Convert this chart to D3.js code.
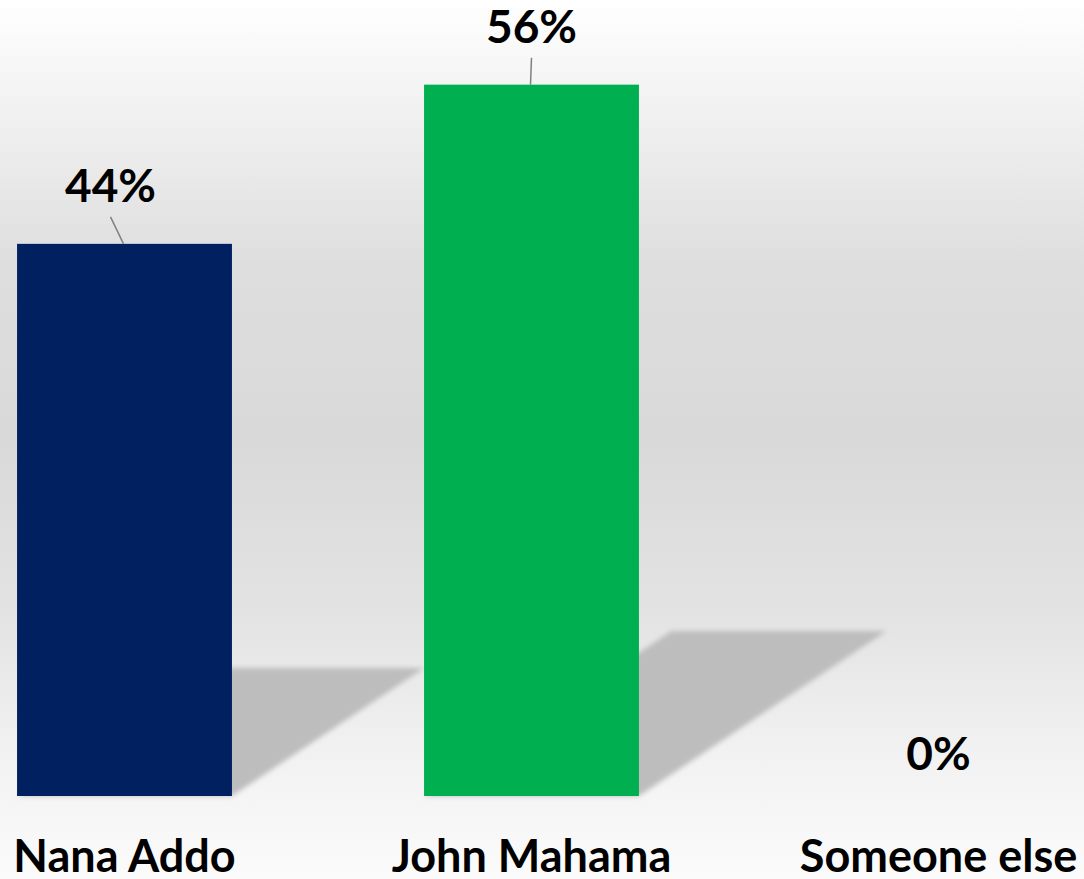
<!DOCTYPE html>
<html>
<head>
<meta charset="utf-8">
<script src="https://cdn.jsdelivr.net/npm/d3@7"></script>
<style>
  html, body { margin: 0; padding: 0; background: #fff; }
  svg { display: block; }
  .value { font-family: Lato, "Open Sans", sans-serif; font-weight: 700; font-size: 46px; fill: #000; }
  .cat { font-family: Lato, "Open Sans", sans-serif; font-weight: 700; font-size: 45px; fill: #000; }
</style>
</head>
<body>
<svg width="1084" height="879"></svg>
<script>
const candidates = ['Nana Addo', 'John Mahama', 'Someone else'];
const shares = [43.7, 56.3, 0];
const shareLabels = ['44%', '56%', '0%'];
const barColors = ['#002060', '#00B050', '#7f7f7f'];

const W = 1084, H = 879;
const baseline = 796;

const svg = d3.select('svg');
const defs = svg.append('defs');

// background: white -> grey -> white
const bg = defs.append('linearGradient')
    .attr('id', 'bg')
    .attr('x1', 0).attr('y1', 0).attr('x2', 0).attr('y2', 1);
[[0, '#ffffff'], [0.08, '#f6f6f6'], [0.3, '#dedede'], [0.5, '#d9d9d9'], [0.7, '#e3e3e3'], [0.85, '#f1f1f1'], [1, '#fbfbfb']]
    .forEach(([o, c]) => bg.append('stop').attr('offset', o).attr('stop-color', c));

defs.append('filter')
    .attr('id', 'blur')
    .attr('x', '-20%').attr('y', '-20%').attr('width', '140%').attr('height', '140%')
    .append('feGaussianBlur')
    .attr('stdDeviation', 2.5);

svg.append('rect')
    .attr('width', W)
    .attr('height', H)
    .attr('fill', 'url(#bg)');

const data = candidates.map((c, i) => ({
    name: c,
    value: shares[i],
    label: shareLabels[i],
    color: barColors[i]
}));

const x = d3.scaleBand()
    .domain(candidates)
    .range([-79, 1142])
    .paddingInner(0.472)
    .paddingOuter(0.236);

const y = d3.scaleLinear()
    .domain([0, 63])
    .range([baseline, 0]);

// cast shadows behind the bars
const shadow = svg.append('g').attr('filter', 'url(#blur)');
shadow.selectAll('path')
    .data(data.filter(d => d.value > 0))
    .enter()
    .append('path')
    .attr('fill', '#bdbdbd')
    .attr('d', d => {
        const h = (baseline - y(d.value)) * 0.232;
        const dx = h * 1.5;
        const x0 = x(d.name), x1 = x0 + x.bandwidth();
        return `M${x0},${baseline}L${x1},${baseline}L${x1 + dx},${baseline - h}L${x0 + dx},${baseline - h}Z`;
    });

svg.append('g')
    .selectAll('rect')
    .data(data)
    .enter()
    .append('rect')
    .attr('x', d => x(d.name))
    .attr('y', d => y(d.value))
    .attr('width', x.bandwidth())
    .attr('height', d => baseline - y(d.value))
    .attr('fill', d => d.color);

// data labels (first one nudged left, with leader line)
const labelShift = [-14, 0, 0];

svg.append('g')
    .selectAll('line')
    .data(data.filter(d => d.value > 0))
    .enter()
    .append('line')
    .attr('x1', d => x(d.name) + x.bandwidth() / 2 + labelShift[candidates.indexOf(d.name)])
    .attr('y1', d => y(d.value) - 27)
    .attr('x2', d => x(d.name) + x.bandwidth() / 2 - 1)
    .attr('y2', d => y(d.value))
    .attr('stroke', '#808080')
    .attr('stroke-width', 1.5);

svg.append('g')
    .selectAll('text')
    .data(data)
    .enter()
    .append('text')
    .attr('class', 'value')
    .attr('text-anchor', 'middle')
    .attr('x', (d, i) => x(d.name) + x.bandwidth() / 2 + labelShift[i])
    .attr('y', d => d.value > 0 ? y(d.value) - 42 : y(d.value) - 26)
    .text(d => d.label);

// category axis labels
const xAxis = svg.append('g')
    .attr('transform', `translate(0, ${baseline})`)
    .call(d3.axisBottom(x).tickSize(0).tickPadding(0));
xAxis.select('.domain').remove();
xAxis.selectAll('text')
    .attr('class', 'cat')
    .attr('fill', null)
    .attr('font-size', null)
    .attr('font-family', null)
    .attr('dy', null)
    .attr('y', 76);
</script>
</body>
</html>
